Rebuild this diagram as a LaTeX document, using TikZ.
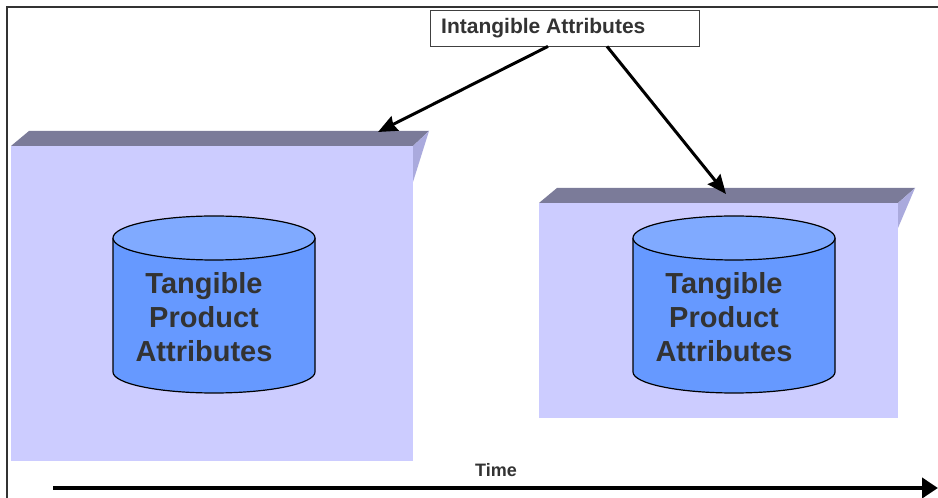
\documentclass[tikz,border=0pt]{standalone}
\usepackage{fontspec}
\setmainfont{Liberation Sans}
\usetikzlibrary{arrows.meta}
\definecolor{front}{HTML}{CCCCFF}
\definecolor{topf}{HTML}{7B7B99}
\definecolor{sidef}{HTML}{AAAADD}
\definecolor{cyltop}{HTML}{80AAFF}
\definecolor{cylbody}{HTML}{6699FF}
\definecolor{txt}{HTML}{333333}
\tikzset{
  cyltext/.style={font=\fontsize{29}{34}\selectfont\bfseries, align=center, text=txt},
  conn/.style={line width=3pt, -{Stealth[length=19pt,width=16pt,inset=2pt]}},
}
\begin{document}
\begin{tikzpicture}[x=1pt,y=1pt]
\useasboundingbox (0,0) rectangle (938,498);
\fill[white] (0,0) rectangle (938,498);
% frame
\draw[line width=2pt, black!80] (7,0) -- (7,491) -- (938,491);
% left box
\fill[front] (11,37) rectangle (413,352);
\fill[topf] (11,352) -- (29,367) -- (429,367) -- (413,352) -- cycle;
\fill[sidef] (413,352) -- (429,367) -- (413,316) -- cycle;
\coordinate (ltop) at (378,366);
% right box
\fill[front] (539,80) rectangle (898,295);
\fill[topf] (539,295) -- (557,310) -- (915,310) -- (898,295) -- cycle;
\fill[sidef] (898,295) -- (915,310) -- (898,270) -- cycle;
\coordinate (rtop) at (726,304);
% cylinders
\foreach \cx/\nm in {214/lc, 734/rc}{
  \fill[cylbody] (\cx-101,260) -- (\cx-101,126) arc[start angle=180, end angle=360, x radius=101, y radius=21] -- (\cx+101,260) -- cycle;
  \draw[line width=1.2pt] (\cx-101,260) -- (\cx-101,126) arc[start angle=180, end angle=360, x radius=101, y radius=21] -- (\cx+101,260);
  \filldraw[fill=cyltop, line width=1.2pt] (\cx,260) ellipse[x radius=101, y radius=22];
}
\node[cyltext] (lt) at (204,181) {Tangible\\Product\\Attributes};
\node[cyltext] (rt) at (724,181) {Tangible\\Product\\Attributes};
% intangible box
\node[draw=black!75, line width=0.8pt, fill=white, minimum width=269pt, minimum height=36pt, inner sep=0pt] (ia) at (564.5,470) {};
\node[anchor=west, inner sep=0pt, font=\fontsize{21}{24}\selectfont\bfseries, text=txt] (iat) at (441,470) {Intangible Attributes};
\draw[conn] (ia.south -| 548,0) -- (ltop);
\draw[conn] (ia.south -| 607,0) -- (rtop);
% time
\coordinate (ts) at (53,10);
\coordinate (te) at (938,10);
\draw[line width=4pt, -{Triangle[length=16pt,width=20pt]}] (ts) -- (te);
\node[font=\fontsize{18}{21}\selectfont\bfseries, text=txt] (time) at (496,28) {Time};
\end{tikzpicture}
\end{document}
